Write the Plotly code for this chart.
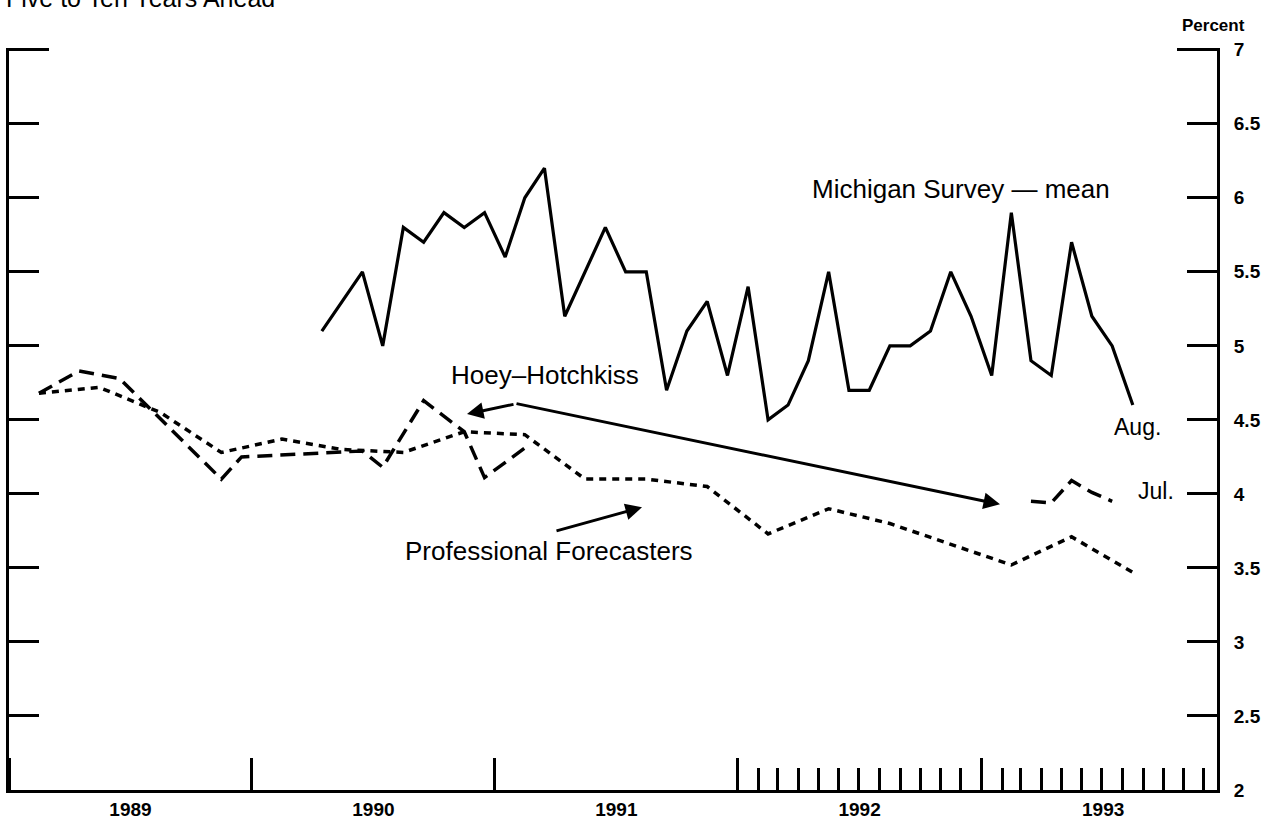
import plotly.graph_objects as go

# Michigan Survey, mean expected inflation 5-10 years ahead (monthly)
mich_months = ["1990-04", "1990-06", "1990-07", "1990-08", "1990-09", "1990-10", "1990-11",
               "1990-12", "1991-01", "1991-02", "1991-03", "1991-04", "1991-06", "1991-07",
               "1991-08", "1991-09", "1991-10", "1991-11", "1991-12", "1992-01", "1992-02",
               "1992-03", "1992-04", "1992-05", "1992-06", "1992-07", "1992-08", "1992-09",
               "1992-10", "1992-11", "1992-12", "1993-01", "1993-02", "1993-03", "1993-04",
               "1993-05", "1993-06", "1993-07", "1993-08"]
mich_values = [5.1, 5.5, 5.0, 5.8, 5.7, 5.9, 5.8,
               5.9, 5.6, 6.0, 6.2, 5.2, 5.8, 5.5,
               5.5, 4.7, 5.1, 5.3, 4.8, 5.4, 4.5,
               4.6, 4.9, 5.5, 4.7, 4.7, 5.0, 5.0,
               5.1, 5.5, 5.2, 4.8, 5.9, 4.9, 4.8,
               5.7, 5.2, 5.0, 4.6]

# Hoey-Hotchkiss survey (None = break in series)
hoey_months = ["1989-02", "1989-04", "1989-06", "1989-11", "1989-12", "1990-03", "1990-06",
               "1990-07", "1990-09", "1990-11", "1990-12", "1991-02", "1992-01",
               "1993-03", "1993-04", "1993-05", "1993-06", "1993-07"]
hoey_values = [4.68, 4.83, 4.78, 4.10, 4.25, 4.27, 4.29,
               4.18, 4.63, 4.42, 4.11, 4.31, None,
               3.95, 3.94, 4.09, 4.01, 3.95]

# Professional forecasters (quarterly)
prof_months = ["1989-02", "1989-05", "1989-08", "1989-11", "1990-02", "1990-05", "1990-08",
               "1990-11", "1991-02", "1991-05", "1991-08", "1991-11", "1992-02", "1992-05",
               "1992-08", "1992-11", "1993-02", "1993-05", "1993-08"]
prof_values = [4.68, 4.72, 4.55, 4.28, 4.37, 4.30, 4.28,
               4.42, 4.40, 4.10, 4.10, 4.05, 3.73, 3.90,
               3.80, 3.66, 3.52, 3.71, 3.47]

y_ticks = [2, 2.5, 3, 3.5, 4, 4.5, 5, 5.5, 6, 6.5, 7]
y_labels = ["2", "2.5", "3", "3.5", "4", "4.5", "5", "5.5", "6", "6.5", "7"]
month_ticks = ["1992-%02d-01" % m for m in range(2, 13)] + ["1993-%02d-01" % m for m in range(2, 13)]

FONT = "Arial, Liberation Sans, Helvetica, sans-serif"
W, H = 1282, 829
L, R, T, B = 9, 1217, 48, 796


def paper(xp, yp):
    # pixel position -> paper coords
    return (xp - L) / (R - L), (B - yp) / (B - T)


fig = go.Figure()
line_kw = dict(mode="lines", xperiod="M1", xperiodalignment="middle", hoverinfo="skip",
               showlegend=False)
fig.add_trace(go.Scatter(x=prof_months, y=prof_values,
                         line=dict(color="black", width=3.5, dash="7px,6px"), **line_kw))
fig.add_trace(go.Scatter(x=hoey_months, y=hoey_values, connectgaps=False,
                         line=dict(color="black", width=3.5, dash="15px,8px"), **line_kw))
fig.add_trace(go.Scatter(x=mich_months, y=mich_values,
                         line=dict(color="black", width=3.2), **line_kw))
# empty traces so the extra tick axes get drawn
for ya in ["y2", "y3", "y4"]:
    fig.add_trace(go.Scatter(x=[], y=[], yaxis=ya, showlegend=False, hoverinfo="skip"))

yrange = [2, 7.012]
bold = dict(size=19, family=FONT, weight="bold")
fig.update_layout(
    width=W, height=H,
    margin=dict(l=L, r=W - R, t=T, b=H - B),
    paper_bgcolor="white", plot_bgcolor="white",
    font=dict(family=FONT, color="black"),
    xaxis=dict(type="date", range=["1989-01-01", "1993-12-21"],
               dtick="M12", tick0="1989-01-01", ticklabelmode="period", tickformat="%Y",
               ticks="inside", ticklen=32, tickwidth=3, tickcolor="black",
               minor=dict(tickvals=month_ticks, ticks="inside", ticklen=22, tickwidth=3,
                          tickcolor="black", showgrid=False),
               showline=True, linewidth=3, linecolor="black",
               showgrid=False, zeroline=False, tickfont=dict(bold, size=19)),
    yaxis=dict(range=yrange, side="right", tickvals=y_ticks, ticktext=y_labels,
               ticks="inside", ticklen=30, tickwidth=3, tickcolor="black",
               showline=True, linewidth=3, linecolor="black",
               showgrid=False, zeroline=False, ticklabelstandoff=10, tickfont=bold),
    yaxis2=dict(range=yrange, overlaying="y", side="left", tickvals=y_ticks,
                ticks="inside", ticklen=30, tickwidth=3, tickcolor="black",
                showticklabels=False, showline=True, linewidth=3, linecolor="black",
                showgrid=False, zeroline=False),
    yaxis3=dict(range=yrange, overlaying="y", side="left", tickvals=[7],
                ticks="inside", ticklen=40, tickwidth=3, tickcolor="black",
                showticklabels=False, showgrid=False, zeroline=False),
    yaxis4=dict(range=yrange, overlaying="y", side="right", tickvals=[7],
                ticks="inside", ticklen=40, tickwidth=3, tickcolor="black",
                showticklabels=False, showgrid=False, zeroline=False),
)

texts = [
    ("Michigan Survey — mean", 961, 190, 26),
    ("Hoey–Hotchkiss", 545, 378, 26),
    ("Professional Forecasters", 549, 555, 26),
    ("Aug.", 1137, 430, 23),
    ("Jul.", 1156, 495, 23),
]
for txt, xp, yp, size in texts:
    px, py = paper(xp, yp)
    fig.add_annotation(x=px, y=py, xref="paper", yref="paper", text=txt, showarrow=False,
                       xanchor="center", yanchor="middle", font=dict(size=size))

tx, ty = paper(4, -2)
fig.add_annotation(x=tx, y=ty, xref="paper", yref="paper", text="Five to Ten Years Ahead",
                   showarrow=False, xanchor="left", yanchor="middle", font=dict(size=25))
px, py = paper(1213, 25)
fig.add_annotation(x=px, y=py, xref="paper", yref="paper", text="Percent",
                   showarrow=False, xanchor="center", yanchor="middle",
                   font=dict(size=17, weight="bold"))

# arrows: (tip x, tip y, tail offset x, tail offset y) in pixels
arrows = [(467, 417, 48, -10), (1000, 508, -485, -101), (642, 511, -87, 24)]
for xp, yp, ax, ay in arrows:
    px, py = paper(xp, yp)
    fig.add_annotation(x=px, y=py, xref="paper", yref="paper", ax=ax, ay=ay, text="",
                       showarrow=True, arrowhead=2, arrowsize=1.1, arrowwidth=3,
                       arrowcolor="black")

fig.write_html("out.html", config={"displayModeBar": False},
               post_script="document.body.style.margin='0';")
